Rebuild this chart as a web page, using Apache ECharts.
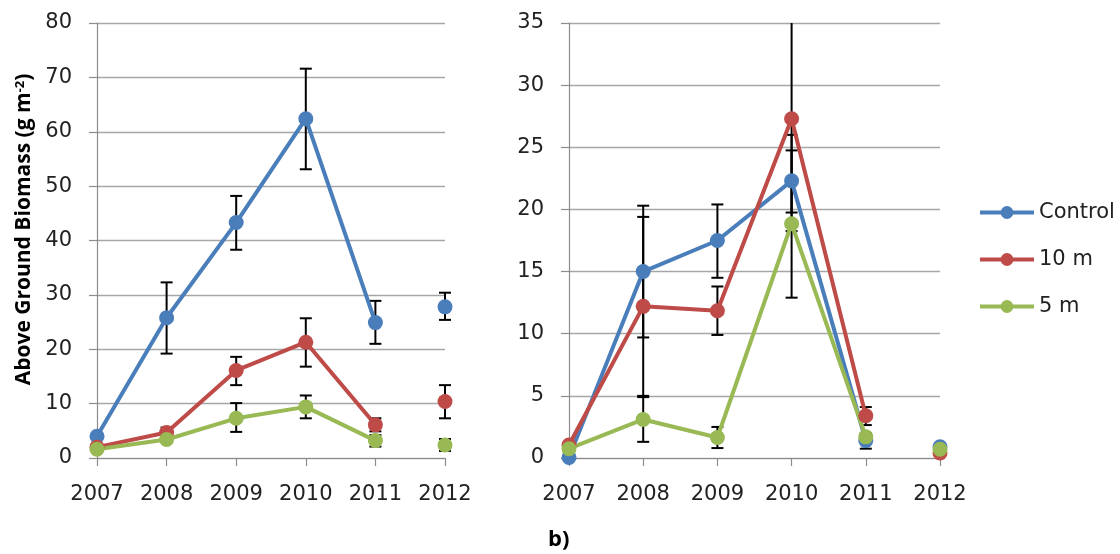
<!DOCTYPE html>
<html>
<head>
<meta charset="utf-8">
<script src="https://cdn.jsdelivr.net/npm/echarts@6/dist/echarts.min.js"></script>
<style>
html,body{margin:0;padding:0;background:#fff;}
#c{width:1120px;height:554px;}
</style>
</head>
<body>
<div id="c"></div>
<script>
// ---- data ----
const years = ['2007', '2008', '2009', '2010', '2011', '2012'];
const seriesNames = ['Control', '10 m', '5 m'];

// panel a (left) values
const controlA = [4.0, 25.8, 43.3, 62.4, 24.9, 27.8];
const m10A     = [2.0, 4.7, 16.1, 21.3, 6.1, 10.4];
const m5A      = [1.6, 3.4, 7.3, 9.4, 3.2, 2.4];
// panel a error (+ / -)
const controlAUp   = [0, 6.5, 4.9, 9.2, 4.0, 2.6];
const controlADown = [0, 6.6, 5.0, 9.3, 3.9, 2.4];
const m10AUp       = [0, 0.9, 2.5, 4.4, 1.2, 3.0];
const m10ADown     = [0, 0.9, 2.7, 4.5, 1.2, 3.1];
const m5AUp        = [0, 0.5, 2.8, 2.1, 1.0, 1.1];
const m5ADown      = [0, 0.5, 2.5, 2.1, 1.1, 1.1];

// panel b (right) values
const controlB = [0.05, 15.0, 17.5, 22.3, 1.4, 0.9];
const m10B     = [1.05, 12.2, 11.85, 27.3, 3.4, 0.4];
const m5B      = [0.75, 3.1, 1.65, 18.85, 1.7, 0.7];
// panel b error (+ / -)
const controlBUp   = [0, 5.3, 2.9, 2.45, 0.6, 0];
const controlBDown = [0, 5.3, 3.0, 2.55, 0.65, 0];
const m10BUp       = [0, 7.2, 1.95, 14.4, 0.7, 0];
const m10BDown     = [0, 7.2, 1.95, 14.4, 0.75, 0];
const m5BUp        = [0, 1.8, 0.85, 7.15, 0, 0];
const m5BDown      = [0, 1.8, 0.85, 0.6, 0, 0];

// axes
const yMaxA = 80, yStepA = 10;
const yMaxB = 35, yStepB = 5;

const colors = ['#4a7ebb', '#be4b48', '#98b954'];

// ---- build ----
const chart = echarts.init(document.getElementById('c'), null, {renderer: 'canvas'});

function lineSeries(name, vals, color, axisIdx) {
  const main = vals.map((v, i) => i < vals.length - 1 ? v : '-');
  const last = vals.map((v, i) => i === vals.length - 1 ? v : '-');
  const common = {
    name: name, type: 'line', xAxisIndex: axisIdx, yAxisIndex: axisIdx,
    symbol: 'circle', symbolSize: 15, showSymbol: true,
    lineStyle: {width: 4, color: color}, itemStyle: {color: color},
    z: 3, animation: false
  };
  return [Object.assign({}, common, {data: main}), Object.assign({}, common, {data: last})];
}

function errSeries(vals, up, down, axisIdx, clipMax) {
  const data = [];
  vals.forEach((v, i) => { if (up[i] > 0 || down[i] > 0) data.push([i, v, up[i], down[i]]); });
  return {
    type: 'custom', xAxisIndex: axisIdx, yAxisIndex: axisIdx, z: 2, animation: false,
    silent: true, data: data,
    renderItem: function (params, api) {
      const x = api.value(0), v = api.value(1), u = api.value(2), d = api.value(3);
      const hiV = Math.min(v + u, clipMax);
      const loV = Math.max(v - d, 0);
      const hi = api.coord([x, hiV]);
      const lo = api.coord([x, loV]);
      const w = 6;
      const st = {stroke: '#000', lineWidth: 2};
      const children = [{type: 'line', shape: {x1: hi[0], y1: hi[1], x2: lo[0], y2: lo[1]}, style: st}];
      if (u > 0 && v + u <= clipMax) children.push({type: 'line', shape: {x1: hi[0] - w, y1: hi[1], x2: hi[0] + w, y2: hi[1]}, style: st});
      if (d > 0) children.push({type: 'line', shape: {x1: lo[0] - w, y1: lo[1], x2: lo[0] + w, y2: lo[1]}, style: st});
      return {type: 'group', children: children};
    }
  };
}

const fontFam = '"DejaVu Sans", "Open Sans", sans-serif';
const titleFam = '"Open Sans", "DejaVu Sans", sans-serif';
const axisCol = '#8c8c8c';

function xAxis(idx) {
  return {
    type: 'category', gridIndex: idx, data: years, boundaryGap: false,
    axisLine: {show: true, lineStyle: {color: axisCol, width: 1.2}},
    axisTick: {show: true, length: 8, alignWithLabel: true, lineStyle: {color: axisCol, width: 1.2}},
    axisLabel: {fontSize: 21, color: '#222', margin: 26, fontFamily: fontFam, interval: 0},
    splitLine: {show: false}
  };
}
function yAxis(idx, max, step, extra) {
  return Object.assign({
    type: 'value', gridIndex: idx, min: 0, max: max, interval: step,
    axisLine: {show: true, lineStyle: {color: axisCol, width: 1.2}},
    axisTick: {show: true, length: 8, lineStyle: {color: axisCol, width: 1.2}},
    axisLabel: {fontSize: 21, color: '#222', margin: 25, fontFamily: fontFam},
    splitLine: {show: true, lineStyle: {color: '#a6a6a6', width: 1.3}}
  }, extra || {});
}

const series = [];
series.push(errSeries(controlA, controlAUp, controlADown, 0, yMaxA));
series.push(errSeries(m10A, m10AUp, m10ADown, 0, yMaxA));
series.push(errSeries(m5A, m5AUp, m5ADown, 0, yMaxA));
series.push(errSeries(controlB, controlBUp, controlBDown, 1, yMaxB));
series.push(errSeries(m10B, m10BUp, m10BDown, 1, yMaxB));
series.push(errSeries(m5B, m5BUp, m5BDown, 1, yMaxB));
[[controlA, controlB], [m10A, m10B], [m5A, m5B]].forEach((pair, k) => {
  series.push(...lineSeries(seriesNames[k], pair[0], colors[k], 0));
});
[[controlA, controlB], [m10A, m10B], [m5A, m5B]].forEach((pair, k) => {
  series.push(...lineSeries(seriesNames[k], pair[1], colors[k], 1));
});

chart.setOption({
  animation: false,
  backgroundColor: '#ffffff',
  textStyle: {fontFamily: fontFam},
  title: {
    text: 'b)', left: 548, top: 529, padding: 0,
    textStyle: {fontSize: 22, fontWeight: 'bold', color: '#000', fontFamily: titleFam}
  },
  legend: {
    data: seriesNames, orient: 'vertical', left: 978, top: 202, padding: 0,
    itemWidth: 54, itemHeight: 16, itemGap: 26,
    lineStyle: {width: 4},
    textStyle: {fontSize: 21, color: '#222', fontFamily: fontFam}
  },
  grid: [
    {left: 97, top: 23, width: 348, height: 435},
    {left: 569, top: 23, width: 371, height: 435}
  ],
  xAxis: [xAxis(0), xAxis(1)],
  yAxis: [
    yAxis(0, yMaxA, yStepA, {
      name: 'Above Ground Biomass (g m{sup|-2})',
      nameLocation: 'middle', nameGap: 62,
      nameTextStyle: {
        fontSize: 21, fontWeight: 'bold', color: '#000', fontFamily: titleFam,
        padding: [0, 0, 0, 22],
        rich: {sup: {fontSize: 13, fontWeight: 'bold', color: '#000', verticalAlign: 'top', fontFamily: titleFam}}
      }
    }),
    yAxis(1, yMaxB, yStepB)
  ],
  series: series
});
</script>
</body>
</html>
